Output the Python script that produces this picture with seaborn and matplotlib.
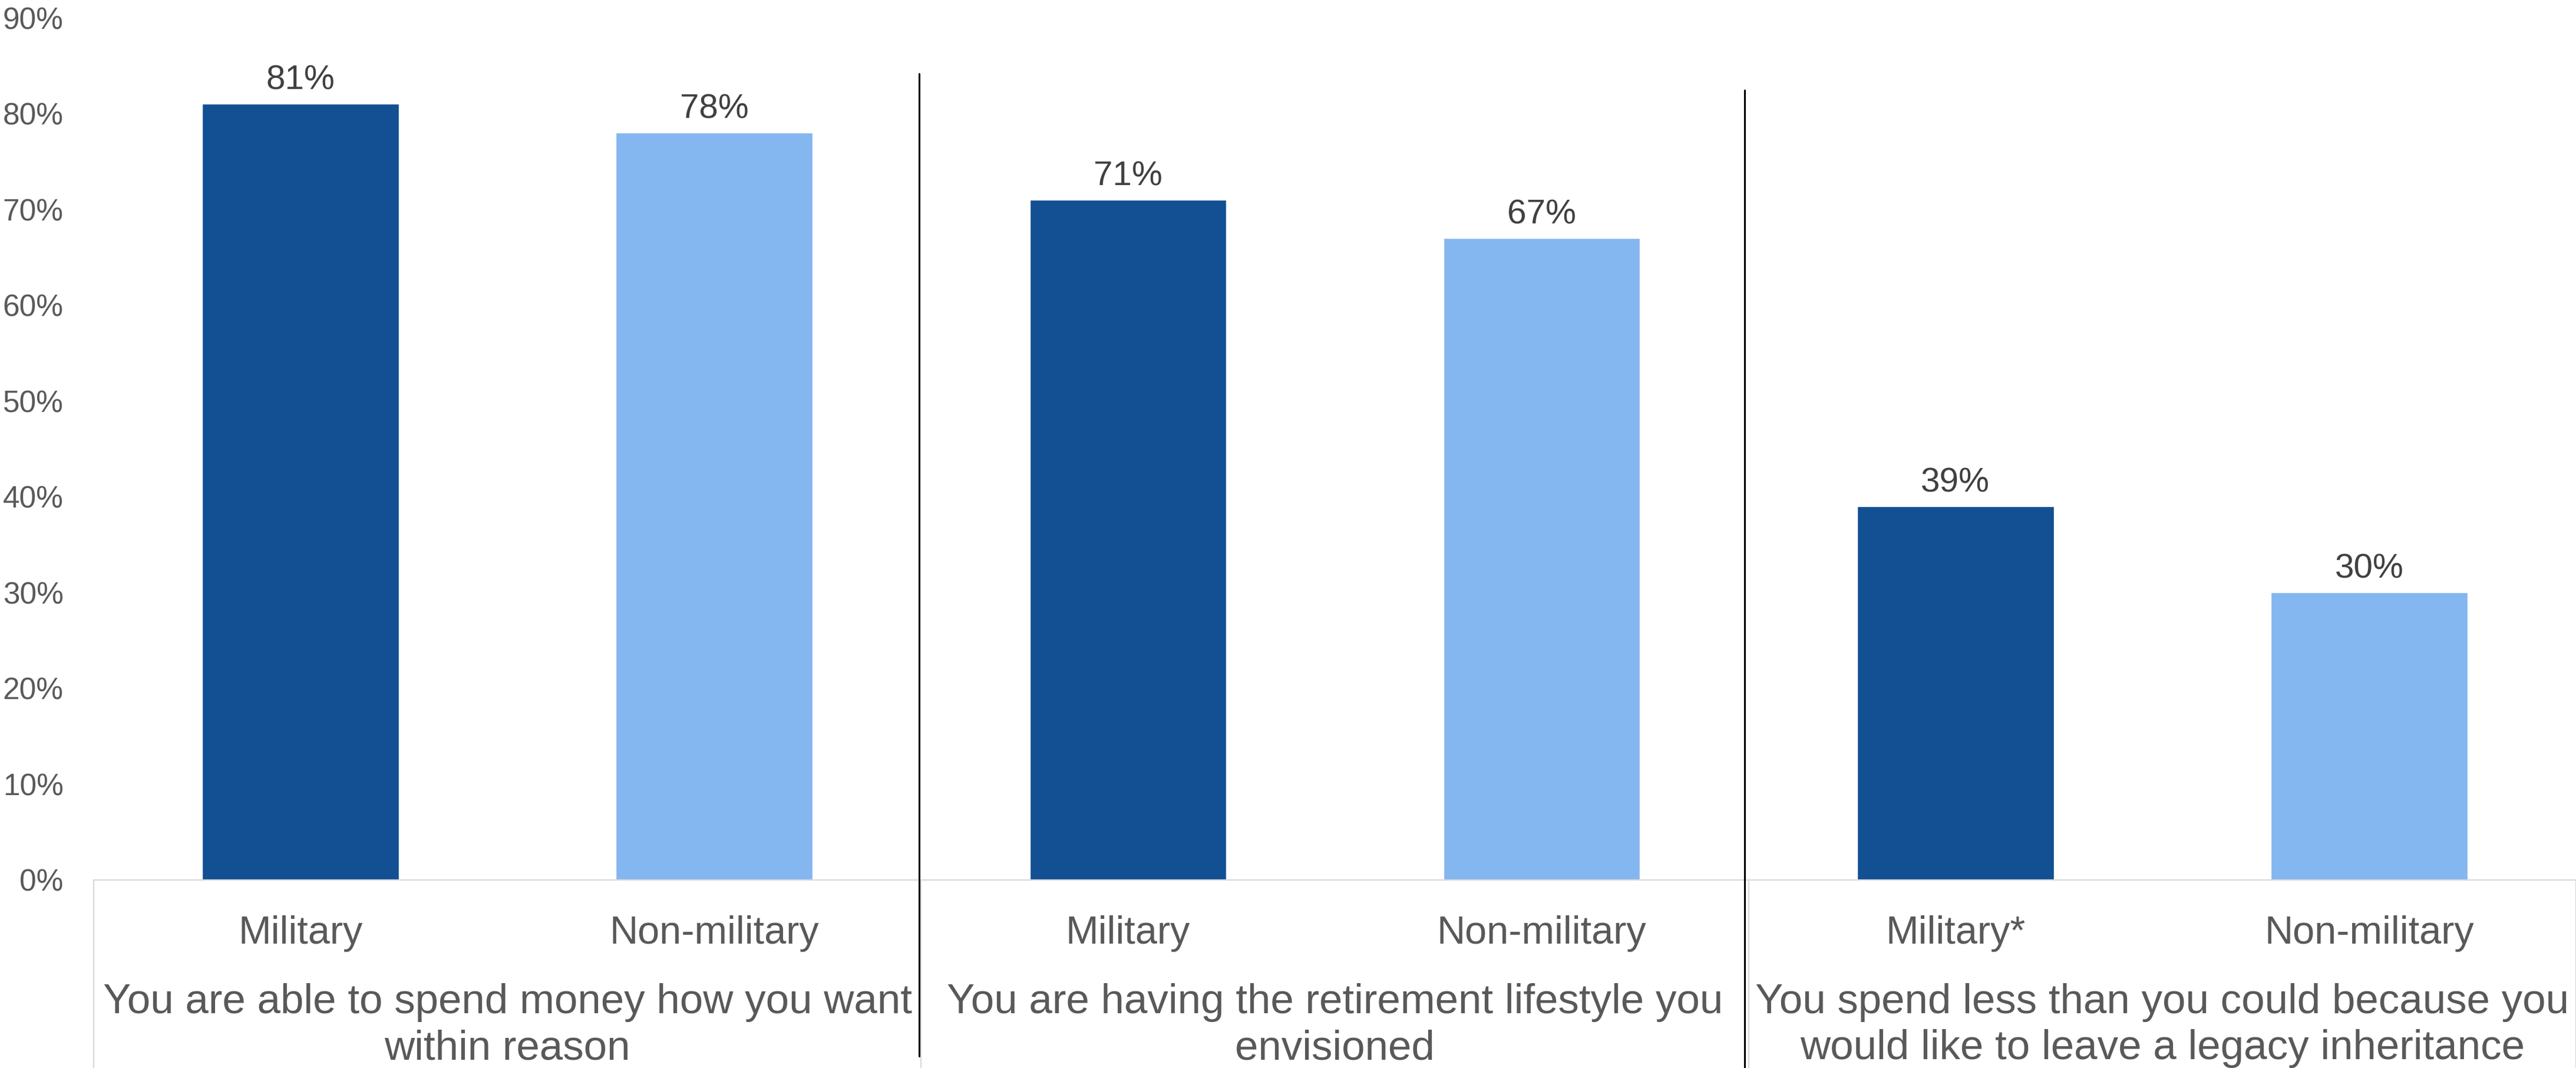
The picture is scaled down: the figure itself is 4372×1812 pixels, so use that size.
import matplotlib
matplotlib.use("Agg")
import matplotlib.pyplot as plt
import matplotlib.transforms as mtransforms
from matplotlib.lines import Line2D
import seaborn as sns
import pandas as pd

# Survey statements (outer category level)
statements = [
    "You are able to spend money how you want\nwithin reason",
    "You are having the retirement lifestyle you\nenvisioned",
    "You spend less than you could because you\nwould like to leave a legacy inheritance",
]
# Inner category labels per statement
segment_labels = [
    ["Military", "Non-military"],
    ["Military", "Non-military"],
    ["Military*", "Non-military"],
]
groups = ["Military", "Non-military"]
military = [81, 71, 39]
non_military = [78, 67, 30]
y_ticks = [0, 10, 20, 30, 40, 50, 60, 70, 80, 90]

colors = {"Military": "#124F93", "Non-military": "#84B6F0"}
text_grey = "#595959"

rows = []
for i, stmt in enumerate(statements):
    for j, (grp, vals) in enumerate(zip(groups, [military, non_military])):
        rows.append({"slot": 2 * i + j, "label": segment_labels[i][j],
                     "group": grp, "value": vals[i]})
df = pd.DataFrame(rows)

sns.set_theme(style="white")
plt.rcParams["font.family"] = ["Liberation Sans", "DejaVu Sans"]

W, H = 4372, 1812
fig = plt.figure(figsize=(W / 100, H / 100), dpi=100)
ax_left, ax_bottom_px, ax_top_px = 159, 1493, 30
ax = fig.add_axes([ax_left / W, 1 - ax_bottom_px / H,
                   1 - ax_left / W, (ax_bottom_px - ax_top_px) / H])

sns.barplot(data=df, x="slot", y="value", hue="group", palette=colors,
            dodge=False, width=0.475, saturation=1, legend=False, ax=ax)

for cont in ax.containers:
    ax.bar_label(cont, fmt="{:.0f}%", padding=9, fontsize=42, color="#404040")

ax.set_xlim(-0.5, 5.5)
ax.set_ylim(0, 90)
ax.set_yticks(y_ticks)
ax.set_yticklabels([f"{t}%" for t in y_ticks])
ax.set_xticks(df["slot"])
ax.set_xticklabels(df["label"])
ax.set_xlabel("")
ax.set_ylabel("")
ax.tick_params(axis="x", length=0, pad=43, labelsize=48, labelcolor=text_grey)
ax.tick_params(axis="y", length=0, pad=37, labelsize=37, labelcolor=text_grey)
for side in ["top", "right", "left"]:
    ax.spines[side].set_visible(False)
ax.spines["bottom"].set_color("#D9D9D9")
ax.spines["bottom"].set_linewidth(1.6)
ax.grid(False)

blend = mtransforms.blended_transform_factory(ax.transData, fig.transFigure)
axis_y = 1 - ax_bottom_px / H

# light category boundaries below the axis
for b in [-0.5, 1.5, 3.5, 5.5]:
    fig.add_artist(Line2D([b, b], [0, axis_y], transform=blend,
                          color="#D9D9D9", lw=1.6, clip_on=False))

# black dividers between statements
for x, top, bottom in [(1.5 - 0.005, 1 - 125 / H, 1 - 1792 / H),
                       (3.5 - 0.01, 1 - 153 / H, 0.0)]:
    fig.add_artist(Line2D([x, x], [bottom, top], transform=blend,
                          color="black", lw=2.2, clip_on=False))

# statement labels (anchored on the baseline of the last line)
for i, stmt in enumerate(statements):
    ax.text(2 * i + 0.5, 1 - 1797 / H, stmt, transform=blend, ha="center",
            va="baseline", fontsize=51, color=text_grey, linespacing=1.23)

fig.savefig("out.png", dpi=100)
